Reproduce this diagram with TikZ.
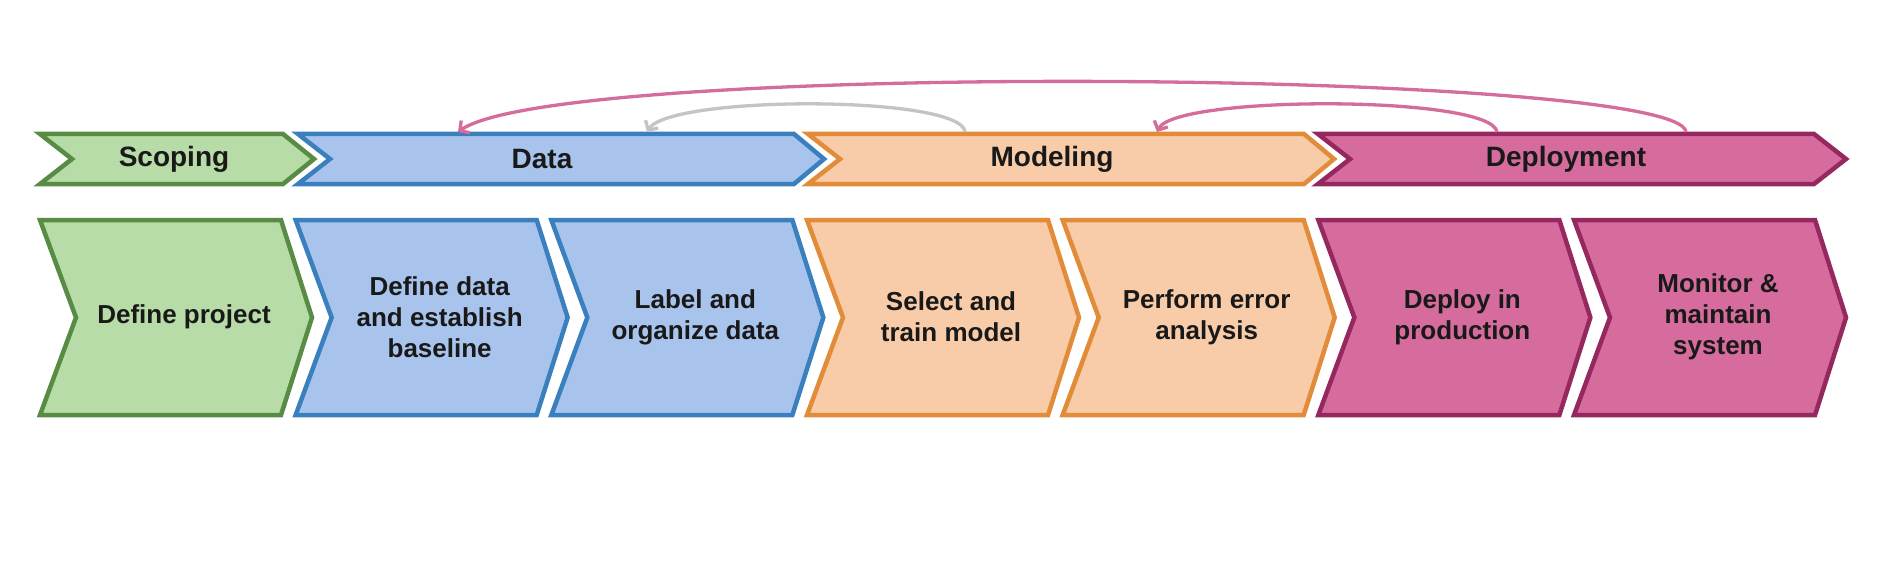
\documentclass[tikz,border=0pt]{standalone}
\usepackage{fontspec}
\setmainfont{Liberation Sans}
\usetikzlibrary{arrows.meta}
\definecolor{scopefill}{RGB}{184,220,168}
\definecolor{scopeline}{RGB}{88,140,68}
\definecolor{datafill}{RGB}{168,196,236}
\definecolor{dataline}{RGB}{58,128,190}
\definecolor{modelfill}{RGB}{248,204,168}
\definecolor{modelline}{RGB}{226,140,58}
\definecolor{deployfill}{RGB}{214,108,158}
\definecolor{deployline}{RGB}{150,40,96}
\definecolor{backpink}{RGB}{212,108,156}
\definecolor{backgray}{RGB}{196,196,196}

\begin{document}
\begin{tikzpicture}[x=1pt, y=-1pt,
    band/.style={line width=4.5pt},
    phase/.style={font=\fontsize{28}{32}\selectfont\bfseries, text=black!90},
    task/.style={font=\fontsize{26}{31}\selectfont\bfseries, align=center, text=black!90},
    feedback/.style={line width=3.3pt, -{Straight Barb[length=7pt, width=15pt]}},
    ]
    \useasboundingbox (0,0) rectangle (1881,567);
    \fill[white] (0,0) rectangle (1881,567);

    % phase bands
    \filldraw[band, draw=scopeline, fill=scopefill] (40,134) -- (283,134) -- (314,159) -- (283,184) -- (40,184) -- (72,159) -- cycle;
    \filldraw[band, draw=dataline, fill=datafill] (298,134) -- (794,134) -- (824,159) -- (794,184) -- (298,184) -- (330,159) -- cycle;
    \filldraw[band, draw=modelline, fill=modelfill] (808,134) -- (1304,134) -- (1334,159) -- (1304,184) -- (808,184) -- (840,159) -- cycle;
    \filldraw[band, draw=deployline, fill=deployfill] (1318,134) -- (1814,134) -- (1846,159) -- (1814,184) -- (1318,184) -- (1350,159) -- cycle;

    \node[phase] (scoping) at (174,159) {Scoping};
    \node[phase] (data) at (542,159) {Data};
    \node[phase] (modeling) at (1052,159) {Modeling};
    \node[phase] (deployment) at (1566,159) {Deployment};

    % task chevrons
    \foreach \i/\c/\txt in {0/scope/Define project,
                            1/data/Define data\\and establish\\baseline,
                            2/data/Label and\\organize data,
                            3/model/Select and\\train model,
                            4/model/Perform error\\analysis,
                            5/deploy/Deploy in\\production,
                            6/deploy/Monitor \&\\maintain\\system} {
        \pgfmathsetmacro\xa{40+255.67*\i}
        \filldraw[band, draw=\c line, fill=\c fill] (\xa,220) -- ({\xa+241},220) -- ({\xa+272},317.5)
            -- ({\xa+241},415) -- (\xa,415) -- ({\xa+36},317.5) -- cycle;
        \node[task] (task\i) at ({\xa+144},317) {\txt};
    }

    % feedback loops
    \coordinate (deployA) at (1686,132);
    \coordinate (deployB) at (1497,132);
    \coordinate (modelA) at (965,132);
    \coordinate (modelB) at (1157,132);
    \coordinate (dataA) at (458,132);
    \coordinate (dataB) at (647,132);

    \draw[feedback, draw=backpink] (deployA) .. controls (1680,70) and (560,60) .. (dataA);
    \draw[feedback, draw=backgray] (modelA) .. controls (962,95) and (670,95) .. (dataB);
    \draw[feedback, draw=backpink] (deployB) .. controls (1492,95) and (1175,95) .. (modelB);
\end{tikzpicture}
\end{document}
